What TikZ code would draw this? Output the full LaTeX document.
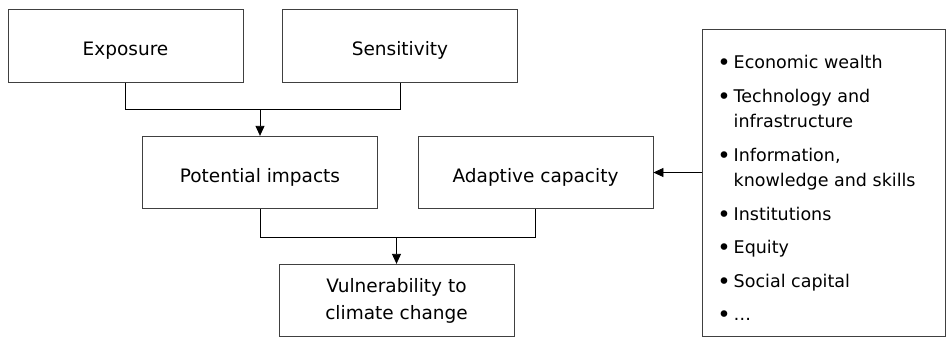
\documentclass[tikz,border=0pt]{standalone}
\usepackage{fontspec}
\setmainfont{DejaVu Sans}
\usetikzlibrary{arrows.meta}
\usetikzlibrary{calc}

\tikzset{
  block/.style={draw=black!75, line width=0.8pt, fill=white, minimum width=235pt,
    minimum height=72.5pt, align=center, font=\fontsize{18.5}{27}\selectfont},
  oneline/.style={block, text height=19pt, text depth=0pt},
  link/.style={line width=0.8pt},
  feed/.style={link, -{Triangle[length=10pt,width=9pt]}}
}
\newcommand{\itemdot}{\raisebox{-2pt}{\scalebox{1.3}{\textbullet}}}

\begin{document}
\begin{tikzpicture}[x=1pt,y=-1pt]
\useasboundingbox (0,0) rectangle (946,338);

% top row
\node[oneline] (expo) at (125.5,46) {Exposure};
\node[oneline] (sens) at (400,46) {Sensitivity};

% middle row
\node[oneline] (impacts) at (260,172.5) {Potential impacts};
\node[oneline] (adapt) at (535.5,172.5) {Adaptive capacity};

% result
\node[block] (vuln) at (396.5,300.5) {Vulnerability to\\climate change};

% determinants of adaptive capacity
\node[block, minimum width=243pt, minimum height=307pt] (listbox) at (823.5,182.5) {};
\node[anchor=base west, inner sep=0pt, font=\fontsize{17.5}{25.5}\selectfont] (listtext)
  at ([xshift=15.5pt,yshift=-40pt]listbox.north west) {%
\begin{tabular}[t]{@{}l@{\hspace{3pt}}l@{}}
\itemdot & Economic wealth\\[8pt]
\itemdot & Technology and\\
 & infrastructure\\[8pt]
\itemdot & Information,\\
 & knowledge and skills\\[8pt]
\itemdot & Institutions\\[8pt]
\itemdot & Equity\\[8pt]
\itemdot & Social capital\\[8pt]
\itemdot & \dots
\end{tabular}};

% connectors
\coordinate (join1) at ($(expo.south)+(0,27)$);
\draw[link] (expo.south) -- (join1) -| (sens.south);
\draw[feed] (join1 -| impacts.north) -- (impacts.north);

\coordinate (join2) at ($(impacts.south)+(0,28)$);
\draw[link] (impacts.south) -- (join2) -| (adapt.south);
\draw[feed] (join2 -| vuln.north) -- (vuln.north);

\draw[feed] (adapt.east -| listbox.west) -- (adapt.east);
\end{tikzpicture}
\end{document}
